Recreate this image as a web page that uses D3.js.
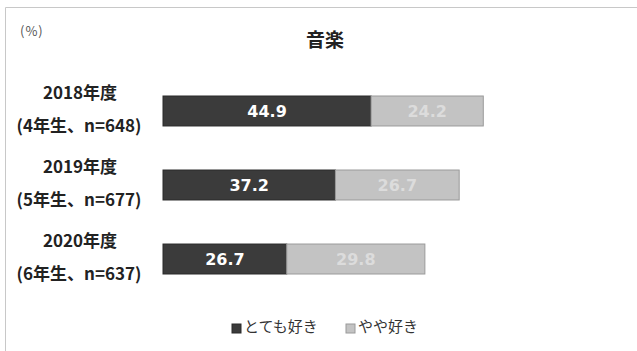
<!DOCTYPE html>
<html>
<head>
<meta charset="utf-8">
<script src="https://cdn.jsdelivr.net/npm/d3@7"></script>
<style>
  body { margin: 0; background: #fff; }
  svg { display: block; font-family: "Noto Sans CJK JP", "Noto Sans", sans-serif; }
</style>
</head>
<body>
<svg id="chart"></svg>
<script>
const years = ["2018年度", "2019年度", "2020年度"];
const groups = ["(4年生、n=648)", "(5年生、n=677)", "(6年生、n=637)"];
const veryLike = [44.9, 37.2, 26.7];
const someLike = [24.2, 26.7, 29.8];
const seriesNames = ["とても好き", "やや好き"];
const colors = ["#3b3b3b", "#c3c3c3"];
const strokes = ["#2a2a2a", "#9a9a9a"];
const labelColors = ["#ffffff", "#dcdcdc"];

const width = 637, height = 351;
const svg = d3.select("#chart")
  .attr("width", width)
  .attr("height", height);

// frame (only left and top edges show in the picture)
svg.append("path")
  .attr("d", `M5.5,${height} V7.5 H${width}`)
  .attr("fill", "none")
  .attr("stroke", "#c8c8c8");

svg.append("text")
  .attr("x", 325).attr("y", 47)
  .attr("text-anchor", "middle")
  .attr("font-size", 19).attr("font-weight", "bold")
  .attr("fill", "#222")
  .text("音楽");

svg.append("text")
  .attr("x", 20).attr("y", 36)
  .attr("font-size", 13)
  .attr("letter-spacing", 1)
  .attr("fill", "#555")
  .text("(%)");

const x = d3.scaleLinear().domain([0, 100]).range([163, 626.5]);
const y = d3.scaleBand().domain(years).range([96, 274]).paddingInner(0.595).paddingOuter(0);

const stack = d3.stack().keys([0, 1])(years.map((yr, i) => [veryLike[i], someLike[i]]));

stack.forEach((layer, k) => {
  const g = svg.append("g");
  g.selectAll("rect")
    .data(layer)
    .join("rect")
      .attr("x", d => x(d[0]))
      .attr("y", (d, i) => y(years[i]))
      .attr("width", d => x(d[1]) - x(d[0]))
      .attr("height", y.bandwidth())
      .attr("fill", colors[k])
      .attr("stroke", strokes[k])
      .attr("stroke-width", 1);
  g.selectAll("text")
    .data(layer)
    .join("text")
      .attr("x", d => (x(d[0]) + x(d[1])) / 2)
      .attr("y", (d, i) => y(years[i]) + y.bandwidth() / 2 + 6)
      .attr("text-anchor", "middle")
      .attr("font-family", "DejaVu Sans, sans-serif")
      .attr("font-size", 16).attr("font-weight", "bold")
      .attr("fill", labelColors[k])
      .text(d => (d[1] - d[0]).toFixed(1));
});

// category labels, two lines each
const cat = svg.append("g");
years.forEach((yr, i) => {
  const cy = y(yr) + y.bandwidth() / 2;
  cat.append("text")
    .attr("x", 80).attr("y", cy - 12)
    .attr("text-anchor", "middle")
    .attr("font-size", 17).attr("font-weight", "bold").attr("fill", "#222")
    .text(yr);
  cat.append("text")
    .attr("x", 79).attr("y", cy + 21)
    .attr("text-anchor", "middle")
    .attr("font-size", 17).attr("font-weight", "bold").attr("fill", "#222")
    .text(groups[i]);
});

// legend
const legendX = [232, 346];
const legend = svg.append("g");
seriesNames.forEach((name, i) => {
  legend.append("rect")
    .attr("x", legendX[i]).attr("y", 324)
    .attr("width", 9).attr("height", 9)
    .attr("fill", colors[i]).attr("stroke", strokes[i]);
  legend.append("text")
    .attr("x", legendX[i] + 12).attr("y", 332)
    .attr("font-size", 15).attr("fill", "#333")
    .text(name);
});
</script>
</body>
</html>
